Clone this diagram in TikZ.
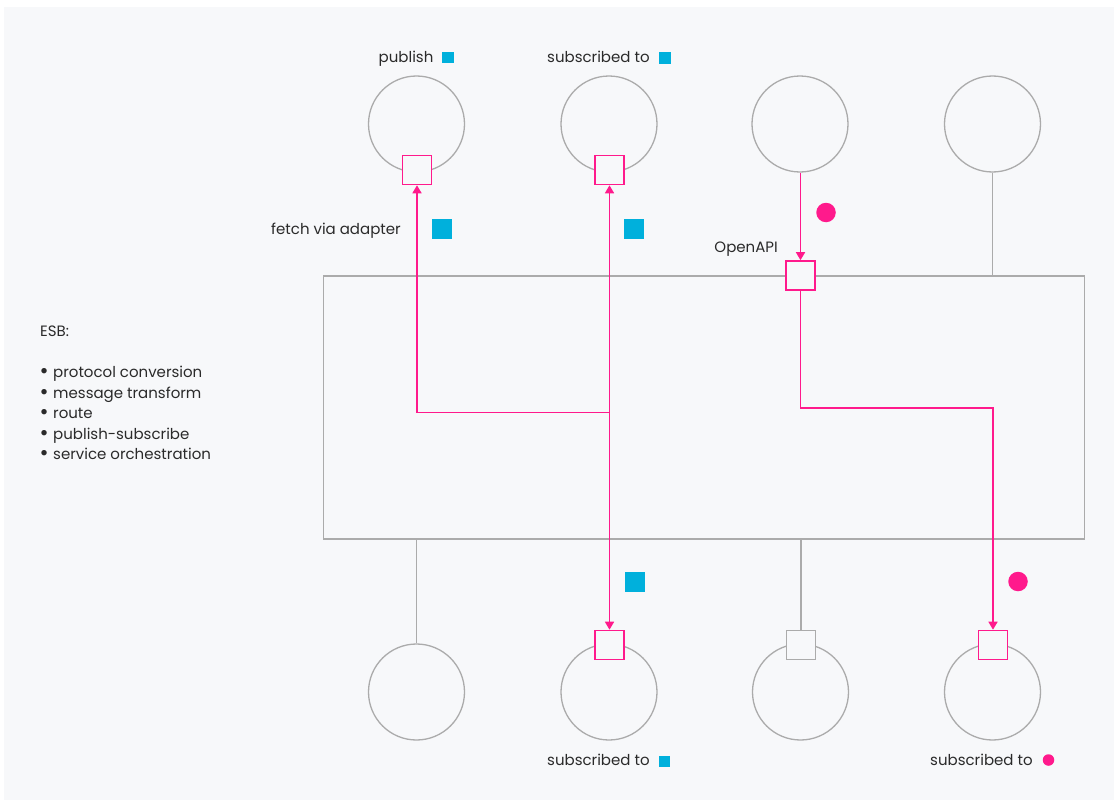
\documentclass[tikz,border=0pt]{standalone}
\usepackage{fontspec}
\setmainfont{Poppins}
\usetikzlibrary{arrows.meta}
\definecolor{bg}{HTML}{F7F8FA}
\definecolor{pinkc}{HTML}{FF1A8C}
\definecolor{bluec}{HTML}{00B0DC}
\definecolor{linegray}{HTML}{ABABAB}
\definecolor{txt}{HTML}{2A2A2A}
\newcommand{\itembullet}{\makebox[13pt][l]{\hspace{-0.6pt}\raisebox{-1.2pt}{\fontsize{22}{17}\selectfont•}}}
\begin{document}
\begin{tikzpicture}[x=1pt,y=-1pt,
  svc/.style={circle,draw=linegray,line width=1.3pt,minimum size=96pt,inner sep=0pt},
  port/.style={draw=pinkc,line width=1.6pt,fill=bg,minimum size=29pt,inner sep=0pt},
  gport/.style={port,draw=linegray,line width=1.4pt},
  flow/.style={draw=pinkc,line width=1.6pt},
  arr/.style={flow,-{Triangle[length=8pt,width=9pt]}},
  link/.style={draw=linegray,line width=1.3pt},
  lbl/.style={font=\fontsize{15}{17}\selectfont,text=txt,inner sep=0pt,anchor=base west},
  bsq/.style={fill=bluec,minimum size=20pt,inner sep=0pt},
  ssq/.style={fill=bluec,minimum size=11.5pt,inner sep=0pt},
  pdot/.style={circle,fill=pinkc,minimum size=19.5pt,inner sep=0pt},
  sdot/.style={circle,fill=pinkc,minimum size=11.5pt,inner sep=0pt}]

% canvas
\fill[white] (0,0) rectangle (1114,800);
\fill[bg] (4,7) rectangle (1114,800);
\useasboundingbox (0,0) rectangle (1114,800);

% the bus
\node[draw=linegray,line width=1.3pt,minimum width=761pt,minimum height=263pt,inner sep=0pt] (esb) at (704,407.5) {};

% services above the bus
\node[svc] (t1) at (416.5,124) {};
\node[svc] (t2) at (609,124) {};
\node[svc] (t3) at (800,124) {};
\node[svc] (t4) at (992.5,124) {};

% services below the bus
\node[svc] (b1) at (416.5,692) {};
\node[svc] (b2) at (609,692) {};
\node[svc] (b3) at (800.5,692) {};
\node[svc] (b4) at (992.5,692) {};

% gray attachments
\draw[link] (t4.south) -- (t4.south |- esb.north);
\draw[link] (b1.north |- esb.south) -- (b1.north);

% ports
\node[port] (pt1) at (417,170) {};
\node[port] (pt2) at (609.5,170) {};
\node[port] (api) at (800.5,275.5) {};
\node[port] (pb2) at (609.5,645) {};
\node[gport] (pb3) at (801,645) {};
\node[port] (pb4) at (993,645) {};

\draw[link] (pb3.north |- esb.south) -- (pb3.north);

% routing through the bus
\coordinate (j1) at (609.5,412.5);
\coordinate (j2) at (800.5,408);
\draw[arr] (j1) -| (pt1.south);
\draw[arr] (j1) -- (pt2.south);
\draw[arr] (j1) -- (pb2.north);
\draw[arr] (t3.south -| api.north) -- (api.north);
\draw[arr] (api.south) -- (j2) -| (pb4.north);

% markers
\node[ssq] (m1) at (448,57.5) {};
\node[ssq] (m2) at (665,58) {};
\node[bsq] (m3) at (442,229) {};
\node[bsq] (m4) at (634,229) {};
\node[pdot] (m5) at (826,212.5) {};
\node[bsq] (m6) at (634.5,582) {};
\node[pdot] (m7) at (1018,581.5) {};
\node[ssq] (m8) at (664.5,761.5) {};
\node[sdot] (m9) at (1048.5,760) {};

% labels
\node[lbl] (l1) at (378.5,62.5) {publish};
\node[lbl] (l2) at (547,62.5) {subscribed to};
\node[lbl] (l3) at (271,234.5) {fetch via adapter};
\node[lbl,anchor=base east] (l4) at (778,252) {OpenAPI};
\node[lbl] (l5) at (547,765.5) {subscribed to};
\node[lbl] (l6) at (930,765.5) {subscribed to};

% feature list
\node[lbl] (e0) at (40,336) {ESB:};
\node[lbl] (e1) at (40,377.5) {\itembullet protocol conversion};
\node[lbl] (e2) at (40,398) {\itembullet message transform};
\node[lbl] (e3) at (40,418.5) {\itembullet route};
\node[lbl] (e4) at (40,439) {\itembullet publish-subscribe};
\node[lbl] (e5) at (40,459.5) {\itembullet service orchestration};
\end{tikzpicture}
\end{document}
